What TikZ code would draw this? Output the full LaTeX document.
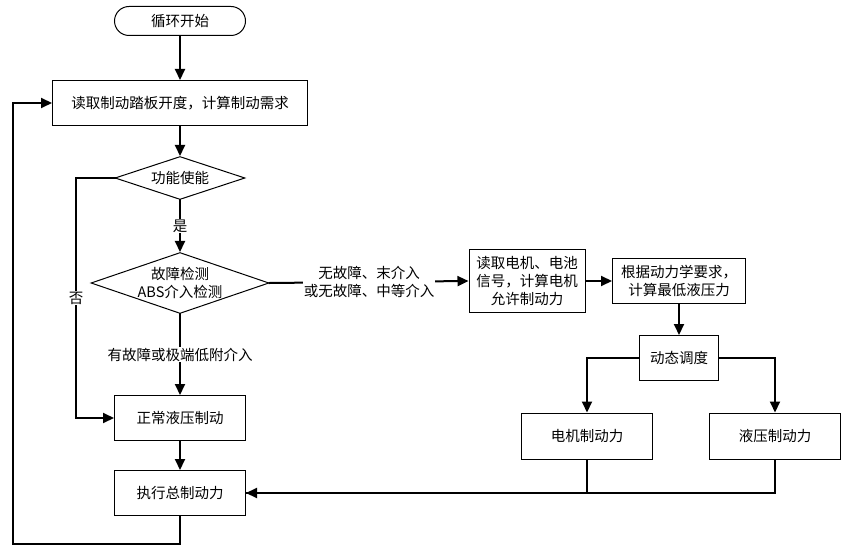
\documentclass[tikz,border=0pt]{standalone}
\usepackage{fontspec}
\setmainfont{Noto Sans CJK SC}
\usetikzlibrary{arrows.meta,shapes.geometric}

\tikzset{
  box/.style={draw,line width=1pt,inner sep=0pt,align=center},
  dec/.style={draw,diamond,line width=1pt,inner sep=-6pt,aspect=2.9,align=center},
  lbl/.style={fill=white,inner sep=1pt,align=center},
  flow/.style={line width=2pt}
}

\begin{document}
\begin{tikzpicture}[x=1pt,y=-1pt,line cap=rect,line join=miter,
  >={Triangle[length=11pt,width=10pt]},
  font=\fontsize{14.5}{18}\selectfont]
\useasboundingbox (0,0) rectangle (851,556);
% left column
\node[box,rounded corners=14.5pt,minimum width=131pt,minimum height=29pt] (start) at (180,21) {循环开始};
\node[box,minimum width=255pt,minimum height=45pt] (read) at (180,103) {读取制动踏板开度，计算制动需求};
\node[dec,minimum width=130pt,minimum height=43pt] (enable) at (180,178) {功能使能};
\node[dec,minimum width=178pt,minimum height=61pt] (fault) at (180,283) {故障检测\\ABS介入检测};
\node[box,minimum width=131pt,minimum height=45pt] (normal) at (180,418) {正常液压制动};
\node[box,minimum width=131pt,minimum height=45pt] (exec) at (180,493) {执行总制动力};
% right part
\node[box,minimum width=116pt,minimum height=63pt] (motorread) at (527,281) {读取电机、电池\\信号，计算电机\\允许制动力};
\node[box,minimum width=133pt,minimum height=45pt] (calc) at (679,281) {根据动力学要求，\\计算最低液压力};
\node[box,minimum width=79pt,minimum height=45pt] (sched) at (679,358) {动态调度};
\node[box,minimum width=131pt,minimum height=46pt] (motor) at (587,436) {电机制动力};
\node[box,minimum width=131pt,minimum height=46pt] (hyd) at (775,436) {液压制动力};
\coordinate (nobend) at (76,178);
\coordinate (loopa) at (180,544);
\coordinate (loopb) at (13,544);

\draw[flow,->] (start) -- (read);
\draw[flow,->] (read) -- (enable);
\draw[flow,->] (enable) -- node[lbl] {是} (fault);
\draw[flow,->] (enable.west) -- (nobend) |- node[lbl,pos=0.25] {否} (normal.west);
\draw[flow,->] (fault) -- node[lbl] {有故障或极端低附介入} (normal);
\draw[flow,->] (fault.east) -- node[lbl] {无故障、末介入\\或无故障、中等介入} (motorread.west);
\draw[flow,->] (motorread) -- (calc);
\draw[flow,->] (calc) -- (sched);
\draw[flow,->] (sched.west) -| (motor.north);
\draw[flow,->] (sched.east) -| (hyd.north);
\draw[flow] (motor.south) |- (exec.east);
\draw[flow,->] (hyd.south) |- (exec.east);
\draw[flow,->] (normal) -- (exec);
\draw[flow,->] (exec.south) -- (loopa) -- (loopb) |- (read.west);
\end{tikzpicture}
\end{document}
